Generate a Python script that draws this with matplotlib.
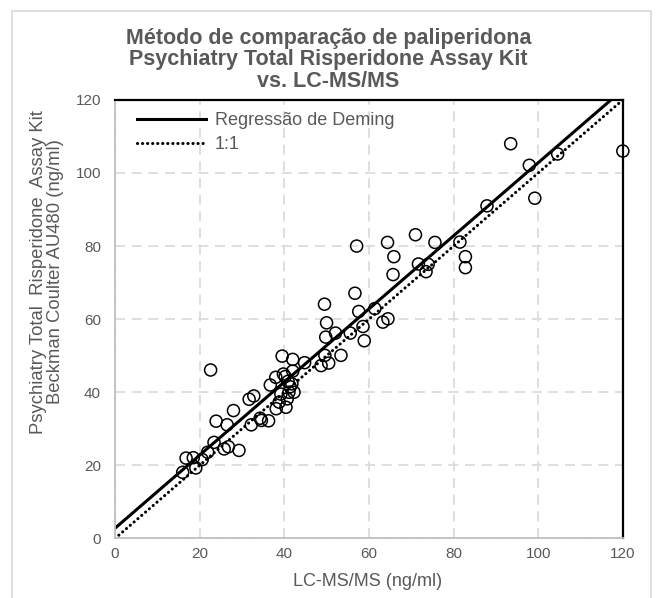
import numpy as np
import matplotlib.pyplot as plt
from matplotlib.patches import Rectangle

plt.rcParams['font.family'] = ['Liberation Sans', 'DejaVu Sans']

# LC-MS/MS (x) vs. Beckman Coulter AU480 (y), ng/ml
lcms = [16.0, 16.8, 18.5, 19.1, 20.6, 21.9, 23.4, 23.9, 22.6, 25.8,
        26.8, 29.3, 26.5, 28.0, 31.7, 32.8, 32.2, 34.3, 34.6, 36.3,
        36.7, 38.1, 38.0, 39.5, 39.8, 40.2, 42.0, 42.0, 41.8, 41.4,
        40.9, 42.3, 40.7, 38.8, 40.4, 39.2, 41.1, 44.8, 48.7, 50.5,
        49.6, 53.4, 49.8, 52.1, 50.0, 49.5, 55.6, 56.7, 57.6, 58.6,
        58.9, 61.4, 57.1, 63.3, 64.5, 64.4, 65.9, 65.7, 71.0, 71.7,
        73.5, 74.0, 75.6, 81.5, 82.8, 82.8, 87.9, 93.5, 97.9, 99.2,
        104.6, 120.0]
au480 = [18.1, 22.0, 22.1, 19.3, 21.6, 23.6, 26.3, 32.1, 46.1, 24.5,
         25.1, 24.1, 31.1, 35.0, 38.1, 39.0, 31.1, 32.9, 32.3, 32.2,
         42.0, 35.5, 44.1, 49.9, 45.0, 44.3, 49.0, 45.8, 42.3, 41.5,
         43.0, 40.0, 38.2, 37.3, 35.9, 39.5, 40.0, 48.1, 47.3, 48.0,
         50.1, 50.1, 55.1, 56.2, 59.0, 64.1, 56.2, 67.1, 62.1, 58.0,
         54.1, 62.9, 80.0, 59.2, 60.1, 81.0, 77.1, 72.2, 83.1, 75.1,
         73.0, 75.0, 81.0, 81.1, 77.1, 74.1, 91.0, 108.0, 102.1, 93.1,
         105.2, 106.0]

# Deming regression
slope = 1.0
intercept = 2.8

ticks = [0, 20, 40, 60, 80, 100, 120]
grey = '#595959'

fig = plt.figure(figsize=(6.57, 5.98), dpi=100)
ax = fig.add_axes([0.175, 0.0995, 0.773, 0.7335])

# outer chart border
fig.patches.append(Rectangle((0.018, -0.05), 0.973, 1.032, transform=fig.transFigure,
                             fill=False, edgecolor='#d9d9d9', linewidth=1.2))

xs = np.array([0, 120])
ax.plot(xs, slope * xs + intercept, color='black', linewidth=2.2,
        label='Regressão de Deming')
ax.plot(xs, xs, color='black', linewidth=2.2, linestyle=(0, (0.05, 1.6)),
        dash_capstyle='round', label='1:1')
ax.scatter(lcms, au480, s=75, facecolors='none', edgecolors='black',
           linewidths=1.1, zorder=3, clip_on=False)

ax.set_xlim(0, 120)
ax.set_ylim(0, 120)
ax.set_xticks(ticks)
ax.set_yticks(ticks)
ax.grid(True, color='#d9d9d9', linestyle=(0, (6, 4)), linewidth=1.2)
ax.set_axisbelow(True)
ax.tick_params(length=0, labelsize=11, colors=grey)
ax.tick_params(axis='y', pad=10)
ax.tick_params(axis='x', pad=6)

ax.spines['left'].set_color('#bfbfbf')
ax.spines['bottom'].set_color('#bfbfbf')
ax.spines['left'].set_linewidth(1.3)
ax.spines['bottom'].set_linewidth(1.3)
ax.spines['top'].set_color('black')
ax.spines['right'].set_color('black')
ax.spines['top'].set_linewidth(1.6)
ax.spines['right'].set_linewidth(1.6)

fig.text(368 / 657, 1 - 581 / 598, 'LC-MS/MS (ng/ml)', ha='center', va='center',
         fontsize=13, color=grey)
fig.text(47 / 657, 1 - 272 / 598,
         'Psychiatry Total  Risperidone  Assay Kit\nBeckman Coulter AU480 (ng/ml)',
         ha='center', va='center', rotation=90, fontsize=13.3, color=grey,
         linespacing=1.0)

fig.text(0.5, 1 - 60 / 598, 'Método de comparação de paliperidona\n'
         'Psychiatry Total Risperidone Assay Kit\nvs. LC-MS/MS',
         ha='center', va='center', fontsize=15.5, fontweight='bold', color=grey,
         linespacing=1.05)

leg = ax.legend(loc='upper left', bbox_to_anchor=(22 / 508, 1 - 12 / 438),
                frameon=False, fontsize=13, handlelength=3.8, borderaxespad=0,
                borderpad=0, labelspacing=0.4, handletextpad=0.5)
for t in leg.get_texts():
    t.set_color(grey)

fig.savefig('out.png', dpi=100)
